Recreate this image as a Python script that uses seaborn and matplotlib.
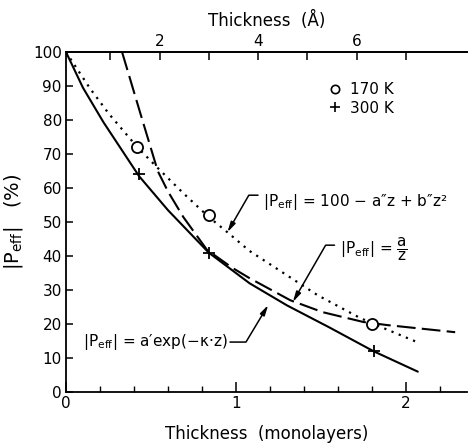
import matplotlib
matplotlib.use("Agg")
import matplotlib.pyplot as plt
import seaborn as sns
from matplotlib.lines import Line2D
from matplotlib.ticker import MultipleLocator, FixedLocator, NullFormatter

# ---------------------------------------------------------------------
# Data (thickness in monolayers, |P_eff| in %)
# ---------------------------------------------------------------------
ml_170 = [0.42, 0.84, 1.80]
p_170 = [72, 52, 20]
ml_300 = [0.43, 0.84, 1.81]
p_300 = [64, 41, 12]

# solid curve: a' exp(-k z)
exp_x = [0.0, 0.1, 0.22, 0.43, 0.6, 0.84, 1.08, 1.3, 1.55, 1.81, 2.07]
exp_y = [100, 89.5, 79.4, 63.5, 53.5, 41, 32, 25.5, 19, 12, 6]

# dotted curve: 100 - a''z + b''z^2
quad_x = [0.0, 0.14, 0.25, 0.42, 0.54, 0.69, 0.84, 0.95, 1.08, 1.28, 1.48, 1.73, 1.85, 2.08]
quad_y = [100, 89.4, 82, 72, 65.9, 58.5, 51.5, 47, 41.5, 35, 28.5, 21.8, 19.2, 14.4]

# dashed curve: a / z
inv_x = [0.33, 0.435, 0.54, 0.6, 0.69, 0.83, 0.98, 1.08, 1.32, 1.51, 1.75, 1.89, 2.29]
inv_y = [100, 82.4, 65, 59, 51.5, 41.8, 36.5, 33.5, 27, 23.5, 20.6, 19.7, 17.6]

y_ticks = list(range(0, 101, 10))
x_ticks = [0, 1, 2]
top_major = [2, 4, 6]
top_minor = [1, 3, 5, 7]


def ml_to_ang(x):
    return x * 3.45 + 0.1


def ang_to_ml(a):
    return (a - 0.1) / 3.45


sns.set_style("ticks")
plt.rcParams["font.family"] = ["DejaVu Sans"]
plt.rcParams["mathtext.default"] = "regular"
for key in ["text.color", "axes.labelcolor", "xtick.color", "ytick.color",
            "axes.edgecolor"]:
    plt.rcParams[key] = "black"

fig = plt.figure(figsize=(4.68, 4.45), dpi=100)
ax = fig.add_axes([0.141, 0.119, 0.857, 0.764])

sns.lineplot(x=exp_x, y=exp_y, sort=False, estimator=None, color="black",
             lw=1.5, ax=ax)
sns.lineplot(x=quad_x, y=quad_y, sort=False, estimator=None, color="black",
             lw=1.6, linestyle=(0, (1, 2.5)), ax=ax)
sns.lineplot(x=inv_x, y=inv_y, sort=False, estimator=None, color="black",
             lw=1.5, linestyle=(0, (9, 3)), ax=ax)

ax.plot(ml_170, p_170, linestyle="none", marker="o", ms=8, mfc="white",
        mec="black", mew=1.3, zorder=5)
ax.plot(ml_300, p_300, linestyle="none", marker="+", ms=8, color="black",
        mew=1.3, zorder=5)

ax.set_xlim(0, 2.36)
ax.set_ylim(0, 100)
ax.yaxis.set_major_locator(FixedLocator(y_ticks))
ax.xaxis.set_major_locator(FixedLocator(x_ticks))
ax.xaxis.set_minor_locator(MultipleLocator(0.2))
ax.tick_params(axis="both", which="major", direction="in", length=7, width=1.1,
               labelsize=11, pad=3)
ax.tick_params(axis="x", which="minor", direction="in", length=4, width=1.0)
ax.tick_params(axis="y", which="major", length=5)
ax.tick_params(top=False, right=False)

for side in ["left", "bottom", "top"]:
    ax.spines[side].set_linewidth(1.3)
ax.spines["right"].set_visible(False)

ax.set_xlabel("Thickness  (monolayers)", fontsize=12, labelpad=10)
ax.set_ylabel(r"$|P_{eff}|$   (%)", fontsize=14, labelpad=6)

secax = ax.secondary_xaxis("top", functions=(ml_to_ang, ang_to_ml))
secax.xaxis.set_major_locator(FixedLocator(top_major))
secax.xaxis.set_minor_locator(FixedLocator(top_minor))
secax.xaxis.set_minor_formatter(NullFormatter())
secax.tick_params(which="both", direction="in", length=6, width=1.1,
                  labelsize=11, pad=2)
secax.spines["top"].set_linewidth(1.3)
secax.set_xlabel("Thickness  (Å)", fontsize=12, labelpad=6)

# legend
handles = [
    Line2D([], [], linestyle="none", marker="o", ms=6, mfc="white", mec="black", mew=1.2),
    Line2D([], [], linestyle="none", marker="+", ms=7, color="black", mew=1.2),
]
ax.legend(handles, ["170 K", "300 K"], loc="upper left",
          bbox_to_anchor=(0.64, 0.93), frameon=False, handlelength=0.8,
          handletextpad=0.6, labelspacing=0.25, fontsize=11, borderaxespad=0)

# annotations
arrow = dict(arrowstyle="-|>,head_length=0.6,head_width=0.15", color="black",
             lw=1.1, shrinkA=0, shrinkB=0)

ax.text(1.16, 56, "$|P_{eff}|$ = 100 \u2212 a\u2033z + b\u2033z\u00b2", fontsize=11,
        ha="left", va="center")
ax.annotate("", xy=(0.95, 47), xytext=(1.13, 57.9),
            arrowprops=dict(arrow, connectionstyle="angle,angleA=0,angleB=60,rad=0"))

ax.text(1.61, 42, r"$|P_{eff}|$ = $\dfrac{a}{z}$", fontsize=11,
        ha="left", va="center")
ax.annotate("", xy=(1.335, 26.5), xytext=(1.58, 43.2),
            arrowprops=dict(arrow, connectionstyle="angle,angleA=0,angleB=60,rad=0"))

ax.text(0.95, 14.7, "$|P_{eff}|$ = a\u2032exp(\u2212\u03ba\u00b7z)", fontsize=11,
        ha="right", va="center")
ax.annotate("", xy=(1.19, 25.6), xytext=(0.965, 14.7),
            arrowprops=dict(arrow, connectionstyle="angle,angleA=0,angleB=59,rad=0"))

fig.savefig("out.png", dpi=100)
